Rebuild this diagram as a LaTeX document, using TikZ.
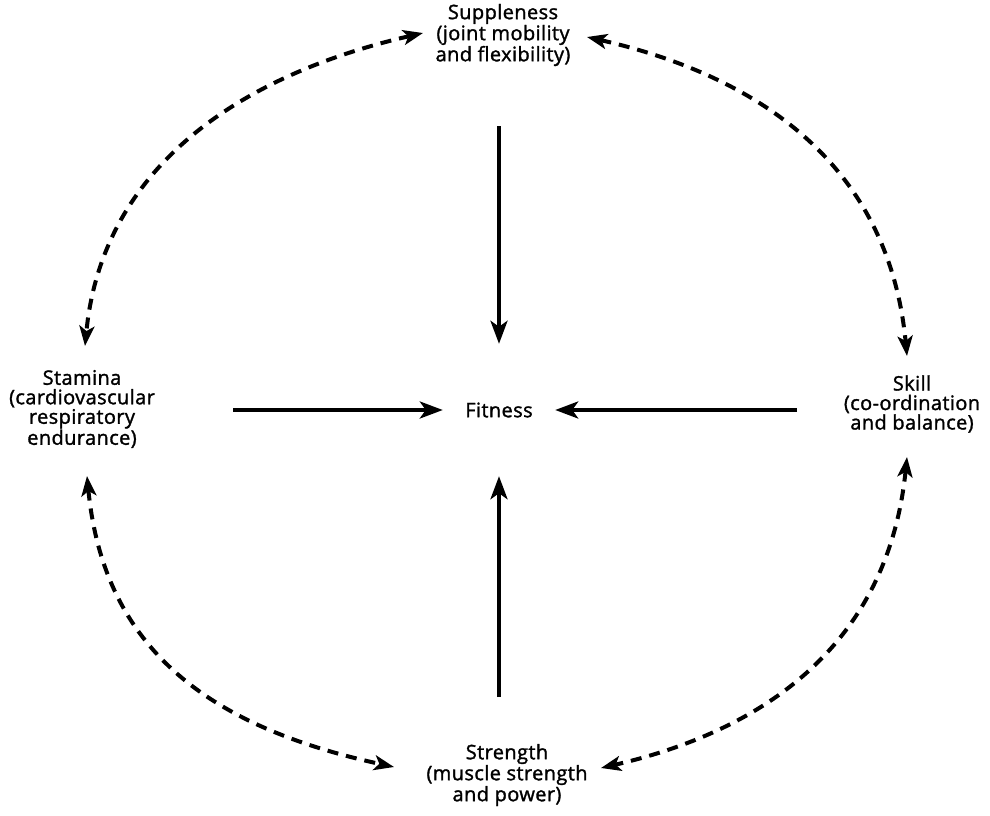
\documentclass[tikz,border=0pt]{standalone}
\usepackage{fontspec}
\setmainfont{Open Sans}[LetterSpace=2,FakeBold=1.5]
\usetikzlibrary{arrows.meta}
\begin{document}
\begin{tikzpicture}[x=1pt,y=-1pt,
  label/.style={align=center,inner sep=0pt,font=\fontsize{20}{19.5}\selectfont},
  hub/.style={minimum width=112pt,minimum height=132pt,inner sep=0pt,font=\fontsize{20}{19.5}\selectfont},
  feed/.style={line width=3.8pt,-{Stealth[length=23pt,width=17pt,inset=6pt]}},
  link/.style={line width=4pt,dash pattern=on 11pt off 8pt,
    {Stealth[length=20pt,width=15pt,inset=5pt]}-{Stealth[length=20pt,width=15pt,inset=5pt]}}]
\useasboundingbox (0,0) rectangle (990,816);

% labels
\node[label] (sup) at (503,35) {Suppleness\\(joint mobility\\and flexibility)};
\node[label] (sta) at (82,409) {Stamina\\(cardiovascular\\respiratory\\endurance)};
\node[label] (ski) at (912,404) {Skill\\(co-ordination\\and balance)};
\node[label] (str) at (507,775) {Strength\\(muscle strength\\and power)};
\node[hub] (fit) at (499,410) {Fitness};

% feeder arrows into the centre
\coordinate (ft) at (499,126);
\coordinate (fb) at (499,697);
\coordinate (fl) at (233,410);
\coordinate (fr) at (797,410);
\draw[feed] (ft) -- (fit.north);
\draw[feed] (fb) -- (fit.south);
\draw[feed] (fl) -- (fit.west);
\draw[feed] (fr) -- (fit.east);

% curved links between neighbouring components
\coordinate (sup-w) at (423,33);
\coordinate (sup-e) at (587,37);
\coordinate (sta-n) at (85,346);
\coordinate (sta-s) at (87,476);
\coordinate (ski-n) at (907,356);
\coordinate (ski-s) at (907,457);
\coordinate (str-w) at (394,767);
\coordinate (str-e) at (601,768);

\draw[link] (sup-w) .. controls (236,76) and (102,170) .. (sta-n);
\draw[link] (sup-e) .. controls (776,80) and (890,178) .. (ski-n);
\draw[link] (sta-s) .. controls (104,650) and (210,727) .. (str-w);
\draw[link] (ski-s) .. controls (891,615) and (800,722) .. (str-e);
\end{tikzpicture}
\end{document}
